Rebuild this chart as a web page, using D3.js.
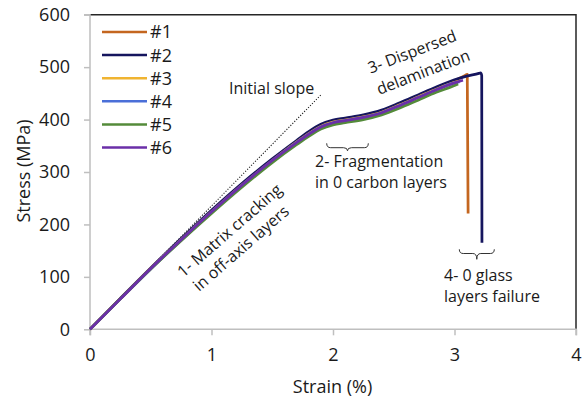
<!DOCTYPE html>
<html><head><meta charset="utf-8">
<script src="https://cdn.jsdelivr.net/npm/d3@7"></script>
<style>
html,body{margin:0;padding:0;background:#fff;}
text{font-family:"Open Sans",sans-serif;fill:#1a1a1a;}
</style></head>
<body><svg id="c" width="587" height="401"></svg>
<script>
// ---- data ----
const seriesNames = ["#1","#2","#3","#4","#5","#6"];
const seriesColors = ["#C4661F","#15155E","#F0B431","#4A6FD8","#548B3A","#6B2FA8"];
const s1 = [[0,0],[0.25,59],[0.5,116],[0.75,172],[1.0,225],[1.25,276],[1.5,323],[1.7,358],[1.8,375],[1.9,389],[2.0,397],[2.1,401],[2.25,407],[2.4,416],[2.55,430],[2.7,445],[2.85,460],[3.0,474],[3.08,483],[3.105,486],[3.112,221]];
const s2 = [[0,0],[0.25,59],[0.5,117],[0.75,173],[1.0,227],[1.25,278],[1.5,325],[1.7,360],[1.8,377],[1.9,391],[2.0,399],[2.1,403],[2.25,409],[2.4,418],[2.55,432],[2.7,447],[2.85,462],[3.0,476],[3.1,483],[3.2,488],[3.215,489],[3.224,484],[3.226,165]];
const s3 = [[0,0],[0.25,58],[0.5,116],[0.75,171],[1.0,224],[1.25,275],[1.5,322],[1.7,357],[1.8,373],[1.9,387],[2.0,395],[2.1,399],[2.25,405],[2.4,414],[2.55,428],[2.7,443],[2.85,458],[3.0,471],[3.05,474]];
const s4 = [[0,0],[0.25,58],[0.5,115],[0.75,170],[1.0,223],[1.25,274],[1.5,321],[1.7,356],[1.8,372],[1.9,386],[2.0,394],[2.1,398],[2.25,404],[2.4,413],[2.55,427],[2.7,442],[2.85,457],[3.0,470],[3.04,472]];
const s5 = [[0,0],[0.25,58],[0.5,115],[0.75,169],[1.0,221],[1.25,271],[1.5,318],[1.7,352],[1.8,368],[1.9,382],[2.0,390],[2.1,394],[2.25,400],[2.4,409],[2.55,422],[2.7,437],[2.85,452],[3.0,465],[3.03,468]];
const s6 = [[0,0],[0.25,58],[0.5,116],[0.75,171],[1.0,224],[1.25,275],[1.5,322],[1.7,356],[1.8,372],[1.9,386],[2.0,394],[2.1,398],[2.25,404],[2.4,413],[2.55,427],[2.7,442],[2.85,457],[3.0,470],[3.07,475]];
const seriesData = [s1,s2,s3,s4,s5,s6];
const initialSlope = [[0,0],[1.9,447]];
const xTicks = [0,1,2,3,4];
const yTicks = [0,100,200,300,400,500,600];
const xTitle = "Strain (%)";
const yTitle = "Stress (MPa)";

// ---- chart ----
const svg = d3.select("#c");
const x = d3.scaleLinear().domain([0,4]).range([90,576]);
const y = d3.scaleLinear().domain([0,600]).range([329.3,14.7]);

// frame (top/right)
svg.append("path").attr("d",`M${x(0)},${y(600)}H${x(4)}V${y(0)}`)
  .attr("fill","none").attr("stroke","#262626").attr("stroke-width",1.5);

const axX = svg.append("g").attr("transform",`translate(0,${y(0)})`)
  .call(d3.axisBottom(x).tickValues(xTicks).tickSize(6).tickPadding(13).tickFormat(d3.format("d")));
const axY = svg.append("g").attr("transform",`translate(${x(0)},0)`)
  .call(d3.axisLeft(y).tickValues(yTicks).tickSize(6).tickPadding(14).tickFormat(d3.format("d")));
[axX,axY].forEach(a=>{
  a.select(".domain").attr("stroke","#BFBFBF").attr("stroke-width",1.5);
  a.selectAll(".tick line").attr("stroke","#BFBFBF").attr("stroke-width",1.5);
  a.selectAll(".tick text").attr("font-size",18).attr("font-family","Open Sans").attr("fill","#1a1a1a");
});
axY.select(".domain").attr("d",`M-6,${y(600)}H0V${y(0)}`);
axX.select(".domain").attr("d",`M${x(0)},6V0H${x(4)}V6`);
axX.selectAll(".tick text").attr("dy","0.71em");

// titles
svg.append("text").attr("x",332.5).attr("y",393).attr("text-anchor","middle").attr("font-size",18).text(xTitle);
svg.append("text").attr("transform","translate(30,171) rotate(-90)").attr("text-anchor","middle").attr("font-size",18).text(yTitle);

// initial slope dotted
const straight = d3.line().x(d=>x(d[0])).y(d=>y(d[1]));
const line = d3.line().x(d=>x(d[0])).y(d=>y(d[1])).curve(d3.curveMonotoneX);
svg.append("path").attr("d",straight(initialSlope)).attr("fill","none")
  .attr("stroke","#222").attr("stroke-width",1.1).attr("stroke-dasharray","1.2,1.6");

// series
seriesData.forEach((d,i)=>{
  svg.append("path").attr("d",line(d)).attr("fill","none")
    .attr("stroke",seriesColors[i]).attr("stroke-width",2.75)
    .attr("stroke-linejoin","round");
});

// legend
const lg = svg.append("g");
seriesNames.forEach((n,i)=>{
  const yy = 32 + i*23.1;
  lg.append("line").attr("x1",102).attr("x2",147).attr("y1",yy).attr("y2",yy)
    .attr("stroke",seriesColors[i]).attr("stroke-width",2.5);
  lg.append("text").attr("x",150).attr("y",yy).attr("dy","0.36em").attr("font-size",18).text(n);
});

// annotations
svg.append("text").attr("x",229).attr("y",93.5).attr("font-size",16).text("Initial slope");

const a1 = svg.append("g").attr("transform","translate(236,238) rotate(-41)");
a1.append("text").attr("text-anchor","middle").attr("y",-10).attr("dy","0.35em").attr("font-size",16).text("1- Matrix cracking");
a1.append("text").attr("text-anchor","middle").attr("x",-3).attr("y",11).attr("dy","0.35em").attr("font-size",16).text("in off-axis layers");

svg.append("text").attr("x",315).attr("y",166.5).attr("font-size",16).text("2- Fragmentation");
svg.append("text").attr("x",315).attr("y",188).attr("font-size",16).text("in 0 carbon layers");

const a3 = svg.append("g").attr("transform","translate(416,62) rotate(-21)");
a3.append("text").attr("text-anchor","middle").attr("y",-11).attr("dy","0.35em").attr("font-size",16).text("3- Dispersed");
a3.append("text").attr("text-anchor","middle").attr("x",3).attr("y",12).attr("dy","0.35em").attr("font-size",16).text("delamination");

svg.append("text").attr("x",444).attr("y",281).attr("font-size",16).text("4- 0 glass");
svg.append("text").attr("x",444).attr("y",302).attr("font-size",16).text("layers failure");

function brace(x1,x2,top,h,tip){
  const cx=(x1+x2)/2, r=4;
  return `M${x1},${top}Q${x1},${h} ${x1+r},${h}L${cx-r},${h}Q${cx},${h} ${cx},${tip}Q${cx},${h} ${cx+r},${h}L${x2-r},${h}Q${x2},${h} ${x2},${top}`;
}
svg.append("path").attr("d",brace(326.7,368.3,143.3,147.7,150.8)).attr("fill","none").attr("stroke","#333").attr("stroke-width",1);
svg.append("path").attr("d",brace(459.3,494.3,249.3,253.5,259.3)).attr("fill","none").attr("stroke","#333").attr("stroke-width",1);
</script></body></html>
